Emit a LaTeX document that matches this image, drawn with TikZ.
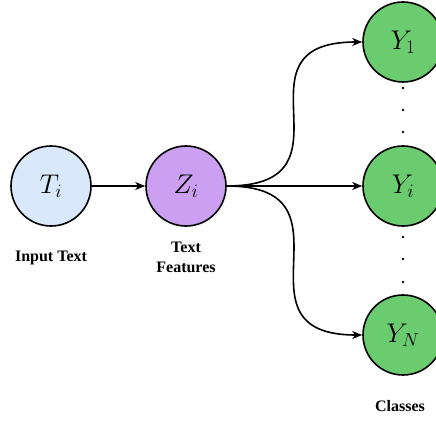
\RequirePackage{fix-cm}
\documentclass[tikz,border=0pt]{standalone}
\usepackage{fontspec}
\setmainfont{Liberation Serif}
\usetikzlibrary{arrows.meta}
\definecolor{cblue}{HTML}{DAE8FC}
\definecolor{cpurple}{HTML}{CBA0F2}
\definecolor{cgreen}{HTML}{6BCB6F}
\begin{document}
\begin{tikzpicture}[x=1pt,y=1pt,
  var/.style={circle,draw=black,line width=1.6pt,minimum size=80pt,inner sep=0pt,font=\fontsize{27}{31}\selectfont},
  lbl/.style={font=\fontsize{16}{20}\selectfont\bfseries,align=center},
  conn/.style={line width=1.6pt,-{Stealth[length=10pt,width=8pt,inset=3pt]}},
  dotn/.style={circle,fill=black,inner sep=0pt,minimum size=2.8pt}]
\useasboundingbox (0,0) rectangle (436,421);
\node[var,fill=cblue] (T) at (51,235) {$T_i$};
\node[var,fill=cpurple] (Z) at (186,235) {$Z_i$};
\node[var,fill=cgreen] (Y1) at (403,379) {$Y_1$};
\node[var,fill=cgreen] (Yi) at (403,235) {$Y_i$};
\node[var,fill=cgreen] (YN) at (403,86) {$Y_N$};
\node[lbl] (l1) at (51,163) {Input Text};
\node[lbl] (l2) at (186,164) {Text\\Features};
\node[lbl] (l3) at (400,15) {Classes};
\node[dotn] (d1) at (403,333) {};
\node[dotn] (d2) at (403,311) {};
\node[dotn] (d3) at (403,289) {};
\node[dotn] (d4) at (403,184) {};
\node[dotn] (d5) at (403,162) {};
\node[dotn] (d6) at (403,139) {};
\draw[conn] (T) -- (Z);
\draw[conn] (Z) -- (Yi);
\draw[conn] (Z.east) .. controls +(137,0) and +(-137,0) .. (Y1.west);
\draw[conn] (Z.east) .. controls +(137,0) and +(-137,0) .. (YN.west);
\end{tikzpicture}
\end{document}
